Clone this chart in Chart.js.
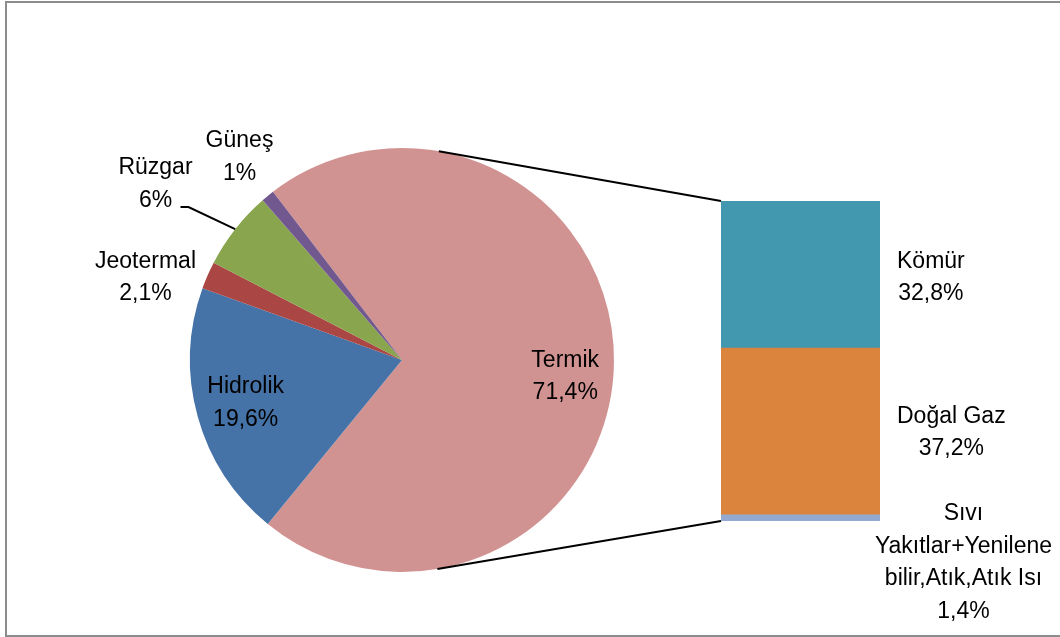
<!DOCTYPE html>
<html>
<head>
<meta charset="utf-8">
<script src="https://cdn.jsdelivr.net/npm/chart.js@4"></script>
<style>
  html, body { margin: 0; padding: 0; background: #fff; }
  #wrap { position: relative; width: 1060px; height: 637px; overflow: hidden; }
  #frame { position: absolute; left: 5px; top: 1px; width: 1080px; height: 636px;
           border: 2px solid #8c8c8c; border-right: none; box-sizing: border-box; }
  canvas { position: absolute; left: 0; top: 0; }
</style>
</head>
<body>
<div id="wrap">
  <div id="frame"></div>
  <canvas id="pie" width="1060" height="637"></canvas>
  <canvas id="bar" width="1060" height="637"></canvas>
</div>
<script>
// pie: main sources
const pieLabels = ['Termik', 'Hidrolik', 'Jeotermal', 'Rüzgar', 'Güneş'];
const pieValues = [71.4, 19.6, 2.1, 6, 1];
const pieColors = ['#D19392', '#4572A7', '#AA4643', '#89A54E', '#71588F'];

// bar: breakdown of Termik, top to bottom
const barLabels = [['Kömür'], ['Doğal Gaz'], ['Sıvı', 'Yakıtlar+Yenilene', 'bilir,Atık,Atık Isı']];
const barValues = [32.8, 37.2, 1.4];
const barColors = ['#4198AF', '#DB843D', '#93A9CF'];

const FONT = '23px "Liberation Sans", Arial, sans-serif';
const LINE = 32.5;

function pct(v) {
    return String(v).replace('.', ',') + '%';
}

function drawLines(ctx, lines, cx, cy) {
    let y0 = cy - (lines.length - 1) * LINE / 2;
    lines.forEach((t, i) => ctx.fillText(t, cx, y0 + i * LINE));
}

// where each pie label goes: inside along the mid angle, or offset from the centre
const pieLabelPos = [
    { inside: 0.77, dy: 14 },
    { inside: 0.765, dy: 0 },
    { dx: -256.5, dy: -82.5 },
    { dx: -246.5, dy: -176, leader: true },
    { dx: -162.5, dy: -203 }
];

const pieLabelPlugin = {
    id: 'pieLabels',
    afterDatasetsDraw(chart) {
        const ctx = chart.ctx;
        const arcs = chart.getDatasetMeta(0).data;
        ctx.save();
        ctx.font = FONT;
        ctx.fillStyle = '#000';
        ctx.textAlign = 'center';
        ctx.textBaseline = 'middle';
        arcs.forEach((arc, i) => {
            const p = arc.getProps(['x', 'y', 'startAngle', 'endAngle', 'outerRadius']);
            const mid = (p.startAngle + p.endAngle) / 2;
            const pos = pieLabelPos[i];
            let cx, cy;
            if (pos.inside) {
                cx = p.x + Math.cos(mid) * p.outerRadius * pos.inside;
                cy = p.y + Math.sin(mid) * p.outerRadius * pos.inside + pos.dy;
            } else {
                cx = p.x + pos.dx;
                cy = p.y + pos.dy;
            }
            drawLines(ctx, [pieLabels[i], pct(pieValues[i])], cx, cy);
            if (pos.leader) {
                const ex = p.x + Math.cos(mid) * p.outerRadius;
                const ey = p.y + Math.sin(mid) * p.outerRadius;
                ctx.beginPath();
                ctx.moveTo(cx + 25, cy + 23);
                ctx.lineTo(cx + 33, cy + 23);
                ctx.lineTo(ex, ey);
                ctx.strokeStyle = '#000';
                ctx.lineWidth = 2;
                ctx.stroke();
            }
        });
        ctx.restore();
    }
};

const pieChart = new Chart(document.getElementById('pie'), {
    type: 'pie',
    data: {
        labels: pieLabels,
        datasets: [{
            data: pieValues,
            backgroundColor: pieColors,
            borderWidth: 0
        }]
    },
    options: {
        responsive: false,
        animation: false,
        rotation: -37.5,
        layout: { padding: { left: 190, top: 148, right: 446, bottom: 65 } },
        plugins: { legend: { display: false }, tooltip: { enabled: false } }
    },
    plugins: [pieLabelPlugin]
});

// label offsets from the bar's right edge / segment centre
const barLabelPos = [
    { dx: 17, dy: 3 },
    { dx: 17, dy: 1.5 },
    { dx: 17, dy: 45 }
];

const barLabelPlugin = {
    id: 'barLabels',
    afterDraw(chart) {
        const ctx = chart.ctx;
        const n = barValues.length;
        ctx.save();
        ctx.font = FONT;
        ctx.fillStyle = '#000';
        ctx.textAlign = 'center';
        ctx.textBaseline = 'middle';
        for (let i = 0; i < n; i++) {
            // datasets are stacked bottom-up, so reverse the index
            const el = chart.getDatasetMeta(n - 1 - i).data[0];
            const right = el.x + el.width / 2;
            const midY = (el.y + el.base) / 2;
            const lines = barLabels[i].concat([pct(barValues[i])]);
            const w = Math.max(...lines.map(t => ctx.measureText(t).width));
            let left = right + barLabelPos[i].dx;
            if (left + w > chart.width - 8) left = chart.width - 8 - w;
            drawLines(ctx, lines, left + w / 2, midY + barLabelPos[i].dy);
        }

        // connector lines: tangents from the bar's left corners to the pie
        const top = chart.getDatasetMeta(n - 1).data[0];
        const bottom = chart.getDatasetMeta(0).data[0];
        const arc = pieChart.getDatasetMeta(0).data[0].getProps(['x', 'y', 'outerRadius']);
        const corners = [
            { x: top.x - top.width / 2, y: top.y, sign: -1 },
            { x: bottom.x - bottom.width / 2, y: bottom.base, sign: 1 }
        ];
        ctx.strokeStyle = '#000';
        ctx.lineWidth = 2;
        corners.forEach(c => {
            const dx = c.x - arc.x, dy = c.y - arc.y;
            const d = Math.hypot(dx, dy);
            const phi = Math.atan2(dy, dx);
            const a = phi + c.sign * Math.acos(arc.outerRadius / d);
            ctx.beginPath();
            ctx.moveTo(arc.x + Math.cos(a) * arc.outerRadius, arc.y + Math.sin(a) * arc.outerRadius);
            ctx.lineTo(c.x, c.y);
            ctx.stroke();
        });
        ctx.restore();
    }
};

const barTotal = barValues.reduce((s, v) => s + v, 0);

new Chart(document.getElementById('bar'), {
    type: 'bar',
    data: {
        labels: [''],
        datasets: barValues.map((v, i) => ({
            label: barLabels[i].join(' '),
            data: [v],
            backgroundColor: barColors[i],
            borderWidth: 0,
            barPercentage: 1,
            categoryPercentage: 1
        })).reverse()
    },
    options: {
        responsive: false,
        animation: false,
        layout: { padding: { left: 721, top: 201, right: 180, bottom: 116 } },
        scales: {
            x: { stacked: true, display: false },
            y: { stacked: true, display: false, min: 0, max: barTotal }
        },
        plugins: { legend: { display: false }, tooltip: { enabled: false } }
    },
    plugins: [barLabelPlugin]
});
</script>
</body>
</html>
